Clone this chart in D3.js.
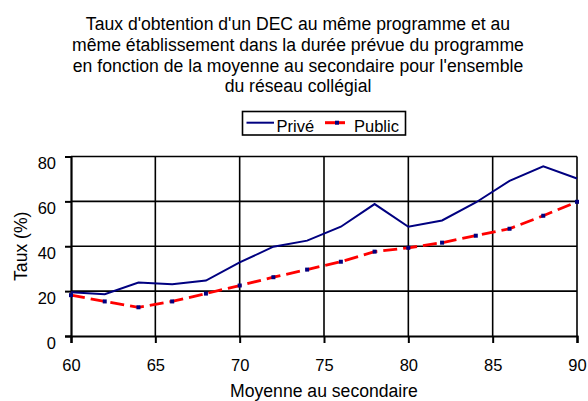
<!DOCTYPE html>
<html>
<head>
<meta charset="utf-8">
<script src="https://cdn.jsdelivr.net/npm/d3@7"></script>
<style>
  html, body { margin: 0; padding: 0; background: #fff; }
  svg { display: block; font-family: "Liberation Sans", Arial, sans-serif; }
</style>
</head>
<body>
<script>
// ---- Data ----
const moyennes = [60, 62, 64, 66, 68, 70, 72, 74, 76, 78, 80, 82, 84, 86, 88, 90];
const prive  = [19.5, 18.6, 23.8, 23.1, 24.7, 32.8, 39.8, 42.5, 48.7, 58.8, 48.7, 51.5, 59.5, 69.1, 75.6, 70.2];
const public_ = [18.2, 15.4, 12.8, 15.4, 18.9, 22.5, 26.2, 29.6, 33.1, 37.6, 39.3, 41.6, 44.7, 47.8, 53.6, 59.8];
const xTicks = [60, 65, 70, 75, 80, 85, 90];
const yTicks = [0, 20, 40, 60, 80];
const titleLines = [
  "Taux d'obtention d'un DEC au même programme et au",
  "même établissement dans la durée prévue du programme",
  "en fonction de la moyenne au secondaire pour l'ensemble",
  "du réseau collégial"
];
const seriesNames = ["Privé", "Public"];
const xTitle = "Moyenne au secondaire";
const yTitle = "Taux (%)";

// ---- Layout ----
const W = 588, H = 401;
const pLeft = 71, pRight = 577, pTop = 156.5, pBottom = 336;

const svg = d3.select("body").append("svg").attr("width", W).attr("height", H);

const x = d3.scaleLinear().domain([60, 90]).range([pLeft, pRight]);
const y = d3.scaleLinear().domain([0, 80]).range([pBottom, pTop]);

// Title
svg.append("g").selectAll("text").data(titleLines).join("text")
  .attr("x", 298).attr("y", (d, i) => 30 + i * 20.8)
  .attr("text-anchor", "middle").attr("font-size", 17.6).attr("fill", "#000")
  .text(d => d);

// Gridlines
const grid = svg.append("g");
grid.selectAll("line.h").data(yTicks.filter(v => v > 0)).join("line")
  .attr("x1", pLeft).attr("x2", pRight).attr("y1", d => y(d)).attr("y2", d => y(d))
  .attr("stroke", "#000").attr("stroke-width", 1.6);
grid.selectAll("line.v").data(xTicks.filter(v => v > 60)).join("line")
  .attr("y1", pTop).attr("y2", pBottom).attr("x1", d => x(d)).attr("x2", d => x(d))
  .attr("stroke", "#000").attr("stroke-width", 1.6);

// Axes
const xAxis = d3.axisBottom(x).tickValues(xTicks).tickSize(7).tickPadding(16).tickFormat(d3.format("d"));
const yAxis = d3.axisLeft(y).tickValues(yTicks).tickSize(6).tickPadding(9).tickFormat(d3.format("d"));

const gx = svg.append("g").attr("transform", `translate(0,${pBottom})`).call(xAxis);
const gy = svg.append("g").attr("transform", `translate(${pLeft},0)`).call(yAxis);
[gx, gy].forEach(g => {
  g.select(".domain").attr("stroke", "#000").attr("stroke-width", 2.2);
  g.selectAll(".tick line").attr("stroke", "#000").attr("stroke-width", 2);
  g.selectAll(".tick text").attr("fill", "#000").attr("font-size", 16.5)
    .attr("font-family", '"Liberation Sans", Arial, sans-serif');
});
gy.selectAll(".tick text").attr("dy", "0.82em").attr("transform", "translate(0,-1.5)");

// Axis titles
svg.append("text").attr("x", (pLeft + pRight) / 2).attr("y", 397)
  .attr("text-anchor", "middle").attr("font-size", 17.6).text(xTitle);
svg.append("text").attr("transform", `translate(27,${(pTop + pBottom) / 2}) rotate(-90)`)
  .attr("text-anchor", "middle").attr("font-size", 17.6).text(yTitle);

// Lines
const lineGen = d3.line().x(d => x(d[0])).y(d => y(d[1]));
const privData = moyennes.map((m, i) => [m, prive[i]]);
const pubData = moyennes.map((m, i) => [m, public_[i]]);

svg.append("path").datum(pubData).attr("d", lineGen)
  .attr("fill", "none").attr("stroke", "#ff0000").attr("stroke-width", 2.8)
  .attr("stroke-dasharray", "14,6");
svg.append("g").selectAll("rect").data(pubData).join("rect")
  .attr("x", d => x(d[0]) - 2).attr("y", d => y(d[1]) - 2)
  .attr("width", 4).attr("height", 4).attr("fill", "#000080");

svg.append("path").datum(privData).attr("d", lineGen)
  .attr("fill", "none").attr("stroke", "#000080").attr("stroke-width", 2);

// Legend
const lg = svg.append("g");
lg.append("rect").attr("x", 242.5).attr("y", 111.5).attr("width", 163).attr("height", 23.5)
  .attr("fill", "#fff").attr("stroke", "#000").attr("stroke-width", 1.6);
lg.append("line").attr("x1", 246.5).attr("x2", 274).attr("y1", 122.7).attr("y2", 122.7)
  .attr("stroke", "#000080").attr("stroke-width", 2);
lg.append("text").attr("x", 276.5).attr("y", 132).attr("font-size", 16.5).text(seriesNames[0]);
lg.append("line").attr("x1", 325).attr("x2", 345).attr("y1", 122.7).attr("y2", 122.7)
  .attr("stroke", "#ff0000").attr("stroke-width", 3);
lg.append("rect").attr("x", 335).attr("y", 120.7).attr("width", 4).attr("height", 4).attr("fill", "#000080");
lg.append("text").attr("x", 354).attr("y", 132).attr("font-size", 16.5).text(seriesNames[1]);
</script>
</body>
</html>
